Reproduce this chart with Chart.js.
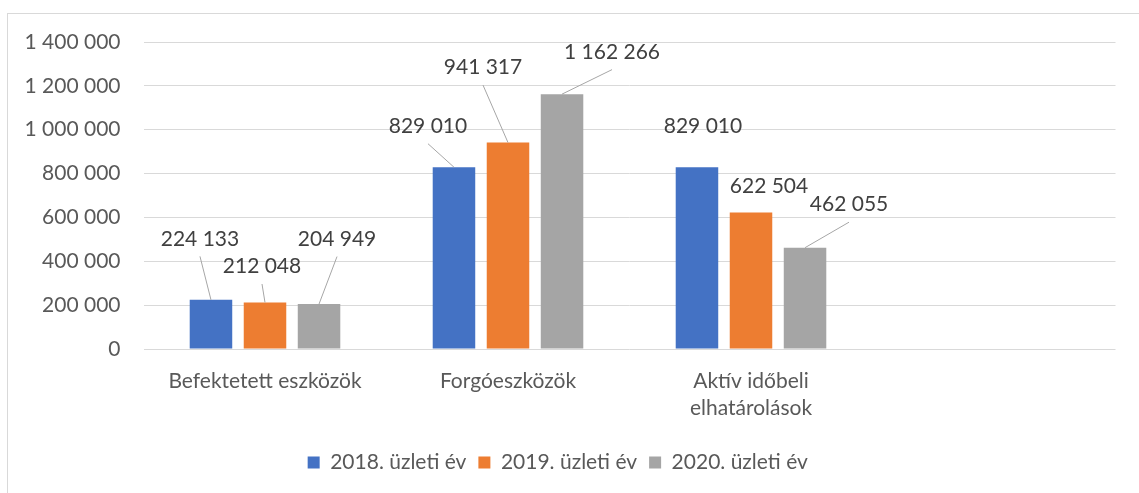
<!DOCTYPE html>
<html>
<head>
<meta charset="utf-8">
<script src="https://cdn.jsdelivr.net/npm/chart.js@4.4.1/dist/chart.umd.min.js"></script>
<style>
  html, body { margin: 0; padding: 0; background: #ffffff; overflow: hidden; }
  #frame { position: absolute; left: 7px; top: 13px; width: 1200px; height: 600px; border: 1px solid #d9d9d9; box-sizing: border-box; }
  #wrap { position: absolute; left: 0; top: 0; width: 1139px; height: 493px; }
</style>
</head>
<body>
<div id="frame"></div>
<div id="wrap"><canvas id="c"></canvas></div>
<script>
// ---- data ----
const categories = ['Befektetett eszközök', 'Forgóeszközök', ['Aktív időbeli', 'elhatárolások'], ''];
const seriesNames = ['2018. üzleti év', '2019. üzleti év', '2020. üzleti év'];
const values2018 = [224133, 829010, 829010, null];
const values2019 = [212048, 941317, 622504, null];
const values2020 = [204949, 1162266, 462055, null];
const yTicks = [0, 200000, 400000, 600000, 800000, 1000000, 1200000, 1400000];

// ---- style ----
const FONT = 'Lato, "Open Sans", sans-serif';
const FS = 21;
const colors = ['#4472c4', '#ed7d31', '#a5a5a5'];
// label placement (text centre relative to bar top centre, px) and leader-line flag
const labelPlacement = [
  [[-11, -61, true], [-26, -41, true], [6, -41, false]],
  [[-3, -36, true], [-25, -75, true], [18, -26, false]],
  [[18, -65, true], [50, -42, true], [44, -43, true]]
];

function fmt(v) { return String(v).replace(/\B(?=(\d{3})+(?!\d))/g, ' '); }

const seriesValues = [values2018, values2019, values2020];

const labelPlugin = {
  id: 'manualLabels',
  afterDatasetsDraw(chart) {
    const ctx = chart.ctx;
    ctx.save();
    ctx.font = FS + 'px ' + FONT;
    ctx.textAlign = 'center';
    ctx.textBaseline = 'middle';
    chart.data.datasets.forEach((ds, di) => {
      const meta = chart.getDatasetMeta(di);
      meta.data.forEach((bar, j) => {
        const v = ds.data[j];
        if (v == null) return;
        const p = labelPlacement[di][j];
        const tx = bar.x + p[0], ty = bar.y + p[1];
        if (p[2]) {
          ctx.strokeStyle = '#a6a6a6';
          ctx.lineWidth = 1;
          ctx.beginPath();
          ctx.moveTo(tx, ty + 17.5);
          ctx.lineTo(bar.x, bar.y);
          ctx.stroke();
        }
        ctx.fillStyle = '#404040';
        ctx.fillText(fmt(v), tx, ty);
      });
    });
    ctx.restore();
  }
};

new Chart(document.getElementById('c'), {
  type: 'bar',
  data: {
    labels: categories,
    datasets: seriesNames.map((n, i) => ({
      label: n,
      data: seriesValues[i],
      backgroundColor: colors[i],
      borderWidth: 0,
      categoryPercentage: 0.667,
      barPercentage: 0.787
    }))
  },
  options: {
    responsive: true,
    maintainAspectRatio: false,
    animation: false,
    layout: { padding: { top: 42, right: 23.5, left: 0, bottom: 10 } },
    plugins: {
      tooltip: { enabled: false },
      legend: {
        position: 'bottom',
        labels: {
          color: '#595959',
          font: { family: FONT, size: FS },
          boxWidth: 12,
          boxHeight: 12,
          padding: 12
        }
      }
    },
    scales: {
      x: {
        grid: { display: false, drawTicks: false },
        border: { display: false },
        ticks: {
          color: '#595959',
          font: { family: FONT, size: FS, lineHeight: 1.28 },
          padding: 19,
          maxRotation: 0,
          autoSkip: false
        },
        afterFit(s) { s.height = 91; }
      },
      y: {
        min: 0,
        max: 1400000,
        afterBuildTicks(s) { s.ticks = yTicks.map(v => ({ value: v })); },
        grid: { color: '#d9d9d9', lineWidth: 1, drawTicks: false },
        border: { display: false },
        ticks: {
          color: '#595959',
          font: { family: FONT, size: FS },
          padding: 23,
          callback: v => fmt(v)
        },
        afterFit(s) { s.width = 143.5; }
      }
    }
  },
  plugins: [labelPlugin]
});
</script>
</body>
</html>
